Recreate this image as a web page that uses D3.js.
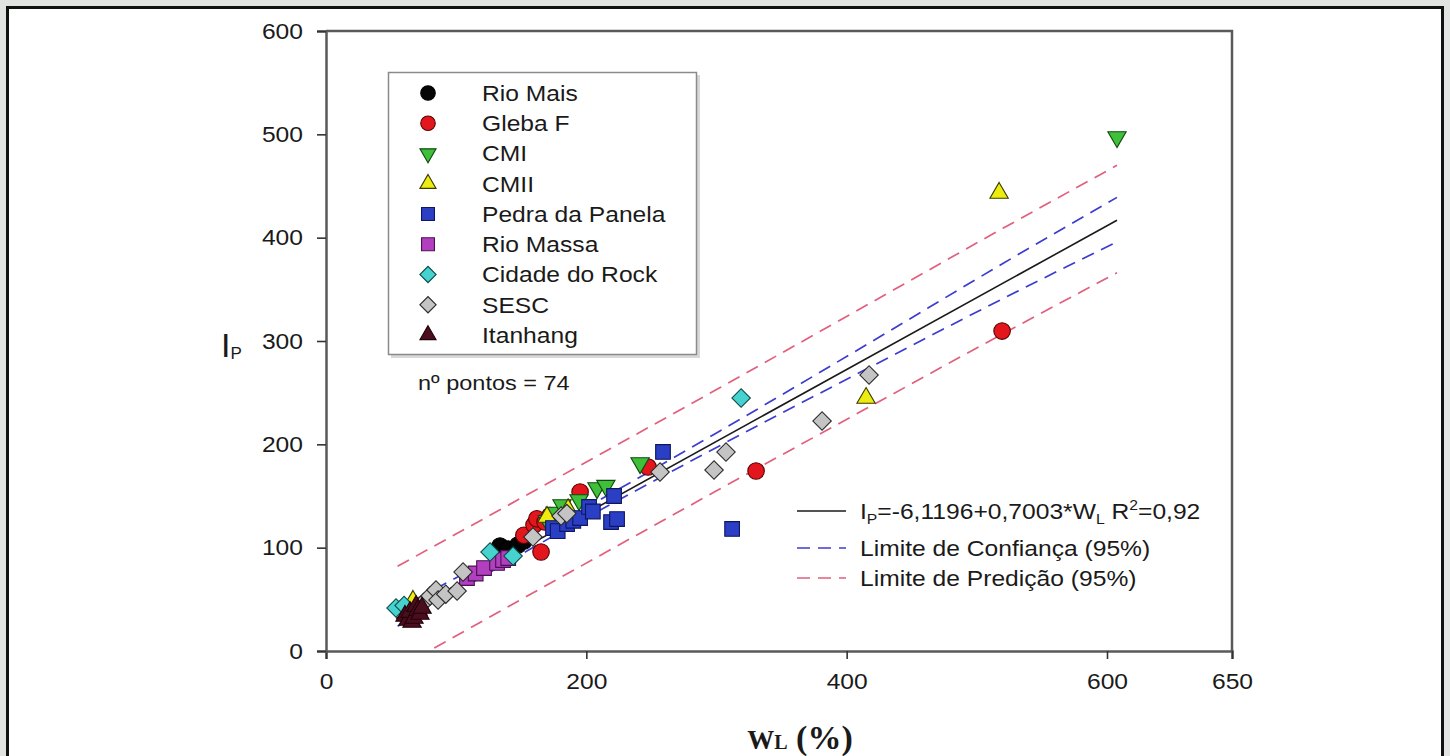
<!DOCTYPE html>
<html>
<head>
<meta charset="utf-8">
<script src="https://cdn.jsdelivr.net/npm/d3@7"></script>
<style>
  body { margin: 0; background: #e2e4e2; }
  svg { display: block; }
  text { font-family: "Liberation Sans", Arial, sans-serif; fill: #1a1a1a; }
</style>
</head>
<body>
<svg id="chart" width="1450" height="756"></svg>
<script>
// ---- data: W_L (%) vs I_P per site ----
const xTickValues = [0, 200, 400, 600, 650];
const yTickValues = [0, 100, 200, 300, 400, 500, 600];

const rioMais = [[133.7,101.6],[139.8,98.7],[147.5,102.6],[152.1,106.5]];
const glebaF = [[152,112],[159.8,121.9],[162,128],[165.2,95.8],[168.3,124.8],[172,131],[195.2,153.9],[247.4,178.1],[330.4,174.2],[519.4,309.6]];
const cmi = [[170,126],[176,134],[181.3,141.3],[194.4,146.1],[208.2,157.7],[215,160],[241.3,181.9],[604,497.4]];
const cmii = [[66.8,48.4],[169.8,129.7],[186,137],[414.9,244.8],[517.1,443.2]];
const pedraDaPanela = [[174.4,119],[178,116],[185.2,122.9],[190,126],[195.2,128.7],[202.1,139.4],[205,135],[219,124.8],[221.3,150],[223.6,127.7],[258.9,192.6],[312,118.1]];
const rioMassa = [[108.3,70.6],[115,75],[121.4,80.3],[131.4,85.2],[136,88],[140,90]];
const cidadeDoRock = [[53.8,41.6],[60,44],[126,95.8],[143.7,91.9],[318.9,244.8]];
const sesc = [[75,47],[79.9,53.2],[84.5,59.0],[86.1,49.4],[92,55],[100.7,58.1],[105.3,76.5],[159,110.3],[180.6,130.6],[185,133],[256.6,173.2],[298.1,175.2],[307.3,192.6],[381.1,222.6],[417.2,267.1]];
const itanhang = [[60.7,33.9],[63,30],[64.5,37.7],[66.1,28.1],[67.6,31.9],[69.2,43.5],[70.7,39.7],[72.2,35.8],[73.8,41.6]];

// fitted line I_P = a + b*W_L and its 95% bands
const regIntercept = -6.1196;
const regSlope = 0.7003;
const regR2 = 0.92;
const bandW = [55, 175, 300, 420, 520, 604];
const confUpper = [41, 121.5, 211, 300, 375, 439];
const confLower = [24, 111.5, 197, 276, 341, 396];
const predUpper = [82, 165.5, 253, 338, 409, 470];
const predLower = [-17, 67.5, 155, 238, 307, 366];

const series = [
  { name: "Rio Mais",        data: rioMais,        shape: "circle",   fill: "#050505", stroke: "#000" },
  { name: "Gleba F",         data: glebaF,         shape: "circle",   fill: "#e3161d", stroke: "#5a0000" },
  { name: "CMI",             data: cmi,            shape: "triDown",  fill: "#3fbf3a", stroke: "#0f4a0f" },
  { name: "CMII",            data: cmii,           shape: "triUp",    fill: "#ecec10", stroke: "#3a3a00" },
  { name: "Pedra da Panela", data: pedraDaPanela,  shape: "square",   fill: "#2b3fc4", stroke: "#0d1660" },
  { name: "Rio Massa",       data: rioMassa,       shape: "square",   fill: "#b23fc0", stroke: "#4a1050" },
  { name: "Cidade do Rock",  data: cidadeDoRock,   shape: "diamond",  fill: "#46d2cf", stroke: "#0c4a48" },
  { name: "SESC",            data: sesc,           shape: "diamond",  fill: "#c4c4c4", stroke: "#2a2a2a" },
  { name: "Itanhang",        data: itanhang,       shape: "triUp",    fill: "#4a0f1e", stroke: "#220008" }
];

// Portuguese number style: comma decimal, ASCII minus
const ptFormat = d3.formatLocale({ decimal: ",", thousands: ".", grouping: [3], currency: ["R$", ""], minus: "-" });
const fmt4 = ptFormat.format(".4f");
const fmt2 = ptFormat.format(".2f");

// the sans text in this figure is set slightly wide
const WIDE = 1.12;

// ---- layout ----
const svg = d3.select("#chart");
const plot = { left: 326, right: 1232, top: 31, bottom: 651 };

// outer panel
svg.append("rect").attr("x", 7.5).attr("y", 7.5).attr("width", 1435).attr("height", 760)
  .attr("fill", "#fff").attr("stroke", "#111").attr("stroke-width", 3);

const x = d3.scaleLinear().domain([0, 600, 650]).range([plot.left, 1107, plot.right]);
const y = d3.scaleLinear().domain([0, 600]).range([plot.bottom, plot.top]);

svg.append("defs").append("clipPath").attr("id", "plotClip")
  .append("rect").attr("x", plot.left).attr("y", plot.top)
  .attr("width", plot.right - plot.left).attr("height", plot.bottom - plot.top);

// frame lines (top and right)
svg.append("path")
  .attr("d", `M${plot.left},${plot.top}H${plot.right}V${plot.bottom}`)
  .attr("fill", "none").attr("stroke", "#5a5a5a").attr("stroke-width", 2.5);

// axes
const xAxis = svg.append("g").attr("transform", `translate(0,${plot.bottom})`)
  .call(d3.axisBottom(x).tickValues(xTickValues).tickFormat(d3.format("d")).tickSize(8).tickPadding(14));
const yAxis = svg.append("g").attr("transform", `translate(${plot.left},0)`)
  .call(d3.axisLeft(y).tickValues(yTickValues).tickFormat(d3.format("d")).tickSize(9).tickPadding(13));
[xAxis, yAxis].forEach(g => {
  g.select(".domain").attr("stroke", "#5a5a5a").attr("stroke-width", 2.5);
  g.selectAll(".tick line").attr("stroke", "#333").attr("stroke-width", 1.6);
  g.selectAll(".tick text").style("font-family", '"Liberation Sans", Arial, sans-serif')
    .style("font-size", "22px").attr("fill", "#222");
});
xAxis.selectAll(".tick text").attr("transform", `scale(${WIDE},1)`);
yAxis.selectAll(".tick text").attr("x", -23 / WIDE).attr("transform", `scale(${WIDE},1)`);

// ---- regression and bands ----
const lines = svg.append("g").attr("clip-path", "url(#plotClip)");
const bandLine = d3.line().x(d => x(d[0])).y(d => y(d[1])).curve(d3.curveMonotoneX);
const bandStyles = [
  { vals: predUpper, color: "#e0607e" },
  { vals: predLower, color: "#e0607e" },
  { vals: confUpper, color: "#3c3ccf" },
  { vals: confLower, color: "#3c3ccf" }
];
bandStyles.forEach(b => {
  lines.append("path").datum(bandW.map((w, i) => [w, b.vals[i]]))
    .attr("d", bandLine).attr("fill", "none").attr("stroke", b.color)
    .attr("stroke-width", 1.7).attr("stroke-dasharray", "13,8");
});
const allW = series.flatMap(s => s.data.map(d => d[0]));
const wExt = d3.extent(allW);
lines.append("path").datum(wExt.map(w => [w, regIntercept + regSlope * w]))
  .attr("d", d3.line().x(d => x(d[0])).y(d => y(d[1])))
  .attr("fill", "none").attr("stroke", "#1a1a1a").attr("stroke-width", 1.6);

// ---- markers ----
function symbolPath(shape, scale) {
  const k = scale || 1;
  switch (shape) {
    case "circle":  return d3.symbol(d3.symbolCircle, 215 * k * k)();
    case "square":  return d3.symbol(d3.symbolSquare, 215 * k * k)();
    case "diamond": return d3.symbol(d3.symbolSquare, 170 * k * k)();
    case "triUp":
    case "triDown": return d3.symbol(d3.symbolTriangle, 145 * k * k)();
  }
}
function symbolRotate(shape) {
  if (shape === "diamond") return 45;
  if (shape === "triDown") return 180;
  return 0;
}

const pts = svg.append("g");
series.forEach(s => {
  pts.selectAll(null).data(s.data).join("path")
    .attr("d", symbolPath(s.shape))
    .attr("transform", d => `translate(${x(d[0])},${y(d[1])}) rotate(${symbolRotate(s.shape)})`)
    .attr("fill", s.fill).attr("stroke", s.stroke).attr("stroke-width", 1.1);
});

// wide text helper
function wideText(g, tx, ty, size) {
  return g.append("text").attr("transform", `translate(${tx},${ty}) scale(${WIDE},1)`)
    .attr("dy", "0.36em").style("font-size", size + "px");
}

// ---- series legend ----
const leg = svg.append("g");
leg.append("rect").attr("x", 391).attr("y", 75).attr("width", 309).attr("height", 283).attr("fill", "#d8d8d8");
leg.append("rect").attr("x", 388.5).attr("y", 72.5).attr("width", 308).attr("height", 282)
  .attr("fill", "#fff").attr("stroke", "#8a8a8a").attr("stroke-width", 1.5);
series.forEach((s, i) => {
  const cy = 93 + i * 30.25;
  leg.append("path").attr("d", symbolPath(s.shape, 0.88))
    .attr("transform", `translate(428,${cy}) rotate(${symbolRotate(s.shape)})`)
    .attr("fill", s.fill).attr("stroke", s.stroke).attr("stroke-width", 1.1);
  wideText(leg, 482, cy, 22).text(s.name);
});
wideText(svg, 418, 382, 21).text("nº pontos = 74");

// ---- fit legend ----
const fit = svg.append("g");
const fitRows = [
  { y: 511, color: "#1a1a1a", dash: null },
  { y: 548, color: "#3c3ccf", dash: "13,8" },
  { y: 578, color: "#e0607e", dash: "13,8" }
];
fitRows.forEach(r => {
  fit.append("line").attr("x1", 797).attr("x2", 846).attr("y1", r.y).attr("y2", r.y)
    .attr("stroke", r.color).attr("stroke-width", 1.7).attr("stroke-dasharray", r.dash);
});
const eq = wideText(fit, 860, 511, 22);
eq.append("tspan").text("I");
eq.append("tspan").attr("dy", 5).style("font-size", "14px").text("P");
eq.append("tspan").attr("dy", -5).text(`=${fmt4(regIntercept)}+${fmt4(regSlope)}*W`);
eq.append("tspan").attr("dy", 5).style("font-size", "14px").text("L");
eq.append("tspan").attr("dy", -5).text(" R");
eq.append("tspan").attr("dy", -9).style("font-size", "14px").text("2");
eq.append("tspan").attr("dy", 9).text("=" + fmt2(regR2));
wideText(fit, 860, 548, 22).text("Limite de Confiança (95%)");
wideText(fit, 860, 578, 22).text("Limite de Predição (95%)");

// ---- axis titles ----
const yt = svg.append("text").attr("x", 221).attr("y", 357).style("font-size", "34px");
yt.append("tspan").text("I");
yt.append("tspan").attr("dy", 2).style("font-size", "17px").text("P");

const xt = svg.append("text").attr("x", 800).attr("y", 749).attr("text-anchor", "middle")
  .style("font-family", '"Liberation Serif", "Times New Roman", serif').style("font-weight", "bold");
xt.append("tspan").style("font-size", "27px").text("W");
xt.append("tspan").style("font-size", "20px").text("L");
xt.append("tspan").style("font-size", "34px").text(" (%)");
</script>
</body>
</html>
